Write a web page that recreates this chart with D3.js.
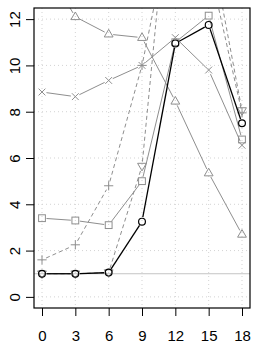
<!DOCTYPE html>
<html>
<head>
<meta charset="utf-8">
<script src="https://cdn.jsdelivr.net/npm/d3@7"></script>
<style>
  body { margin: 0; background: #fff; }
  svg { display: block; font-family: "Liberation Sans", Arial, sans-serif; }
</style>
</head>
<body>
<div id="viz"></div>
<script>
// values
let hours = [0, 3, 6, 9, 12, 15, 18];
let yTicks = [0, 2, 4, 6, 8, 10, 12];

let circleVals = [1.0, 1.0, 1.05, 3.25, 10.95, 11.75, 7.5];
let squareVals = [3.4, 3.3, 3.1, 5.0, 11.0, 12.15, 6.8];
let triUpVals = [14.5, 12.1, 11.35, 11.2, 8.45, 5.35, 2.7];
let crossVals = [8.85, 8.65, 9.35, 10.0, 11.2, 9.8, 6.55];
let plusVals = [1.6, 2.25, 4.8, 10.0, 17.0, 14.4, 7.95];
let triDownVals = [1.0, 1.0, 1.05, 5.65, 20.5, 15.7, 8.05];

let refLine = 1;

let w = 258;
let h = 343;
let padL = 34, padR = 250, padT = 8, padB = 308;

let gray = "#8e8e8e";

let series = [
  { vals: triDownVals, pch: "triDown", color: gray, dash: "4,3", lw: 1 },
  { vals: plusVals, pch: "plus", color: gray, dash: "4,3", lw: 1 },
  { vals: crossVals, pch: "cross", color: gray, dash: null, lw: 1 },
  { vals: triUpVals, pch: "triUp", color: gray, dash: null, lw: 1 },
  { vals: squareVals, pch: "square", color: gray, dash: null, lw: 1 },
  { vals: circleVals, pch: "circle", color: "#000", dash: null, lw: 1.3 }
];

let viz = d3.select("#viz")
  .append("svg")
  .attr("width", w)
  .attr("height", h);

// R style 4% padding on both axes
let xScale = d3.scaleLinear().domain([-0.72, 18.72]).range([padL, padR]);
let yScale = d3.scaleLinear().domain([-0.48, 12.48]).range([padB, padT]);

viz.append("clipPath").attr("id", "plotArea")
  .append("rect")
  .attr("x", padL).attr("y", padT)
  .attr("width", padR - padL).attr("height", padB - padT);

// dotted grid
let grid = viz.append("g").attr("clip-path", "url(#plotArea)");
grid.selectAll(".vgrid").data(hours).enter()
  .append("line")
  .attr("x1", d => xScale(d)).attr("x2", d => xScale(d))
  .attr("y1", padT).attr("y2", padB)
  .attr("stroke", "#d3d3d3")
  .attr("stroke-dasharray", "1,3");
grid.selectAll(".hgrid").data(yTicks).enter()
  .append("line")
  .attr("y1", d => yScale(d)).attr("y2", d => yScale(d))
  .attr("x1", padL).attr("x2", padR)
  .attr("stroke", "#d3d3d3")
  .attr("stroke-dasharray", "1,3");

// horizontal reference line at 1
grid.append("line")
  .attr("x1", padL).attr("x2", padR)
  .attr("y1", yScale(refLine)).attr("y2", yScale(refLine))
  .attr("stroke", "#c4c4c4")
  .attr("stroke-width", 1);

// type="b": segments leave a gap around each point
let gap = 4.5;
function segments(vals) {
  let segs = [];
  for (let i = 0; i < vals.length - 1; i++) {
    let x1 = xScale(hours[i]), y1 = yScale(vals[i]);
    let x2 = xScale(hours[i + 1]), y2 = yScale(vals[i + 1]);
    let len = Math.hypot(x2 - x1, y2 - y1);
    if (len <= 2 * gap) continue;
    let ux = (x2 - x1) / len, uy = (y2 - y1) / len;
    segs.push([x1 + ux * gap, y1 + uy * gap, x2 - ux * gap, y2 - uy * gap]);
  }
  return segs;
}

function drawMark(g, kind, color) {
  let s = 3.4;
  if (kind == "circle") {
    g.append("circle").attr("r", s).attr("fill", "none").attr("stroke", color).attr("stroke-width", 1.2);
  } else if (kind == "square") {
    g.append("rect").attr("x", -s).attr("y", -s).attr("width", 2 * s).attr("height", 2 * s)
      .attr("fill", "none").attr("stroke", color);
  } else if (kind == "triUp") {
    g.append("path").attr("d", "M0,-4.8L4.4,2.8L-4.4,2.8Z").attr("fill", "none").attr("stroke", color);
  } else if (kind == "triDown") {
    g.append("path").attr("d", "M0,4.8L4.4,-2.8L-4.4,-2.8Z").attr("fill", "none").attr("stroke", color);
  } else if (kind == "plus") {
    g.append("path").attr("d", "M-4.6,0H4.6M0,-4.6V4.6").attr("fill", "none").attr("stroke", color);
  } else if (kind == "cross") {
    g.append("path").attr("d", "M-3.4,-3.4L3.4,3.4M-3.4,3.4L3.4,-3.4").attr("fill", "none").attr("stroke", color);
  }
}

let plot = viz.append("g").attr("clip-path", "url(#plotArea)");

series.forEach(function (s) {
  let grp = plot.append("g");
  grp.selectAll(".seg").data(segments(s.vals)).enter()
    .append("line")
    .attr("x1", d => d[0]).attr("y1", d => d[1])
    .attr("x2", d => d[2]).attr("y2", d => d[3])
    .attr("stroke", s.color)
    .attr("stroke-width", s.lw)
    .attr("stroke-dasharray", s.dash);

  grp.selectAll(".pt").data(s.vals).enter()
    .append("g")
    .attr("transform", (d, i) => "translate(" + xScale(hours[i]) + "," + yScale(d) + ")")
    .each(function () {
      drawMark(d3.select(this), s.pch, s.color);
    });
});

// axes
let xAxis = d3.axisBottom(xScale).tickValues(hours).tickSize(8).tickPadding(14);
let xAxisGroup = viz.append("g")
  .attr("transform", "translate(0," + padB + ")")
  .call(xAxis);
xAxisGroup.select(".domain").remove();

let yAxis = d3.axisLeft(yScale).tickValues(yTicks).tickSize(8);
let yAxisGroup = viz.append("g")
  .attr("transform", "translate(" + padL + ",0)")
  .call(yAxis);
yAxisGroup.select(".domain").remove();
yAxisGroup.selectAll("text")
  .attr("x", 0)
  .attr("y", -14)
  .attr("dy", 0)
  .attr("text-anchor", "middle")
  .attr("transform", "rotate(-90)");

viz.selectAll(".tick text")
  .attr("font-size", 15)
  .attr("font-family", "Liberation Sans, Arial, sans-serif")
  .attr("fill", "#000");
viz.selectAll(".tick line").attr("stroke", "#000");

// box
viz.append("rect")
  .attr("x", padL).attr("y", padT)
  .attr("width", padR - padL).attr("height", padB - padT)
  .attr("fill", "none")
  .attr("stroke", "#000")
  .attr("stroke-width", 1.2);
</script>
</body>
</html>
